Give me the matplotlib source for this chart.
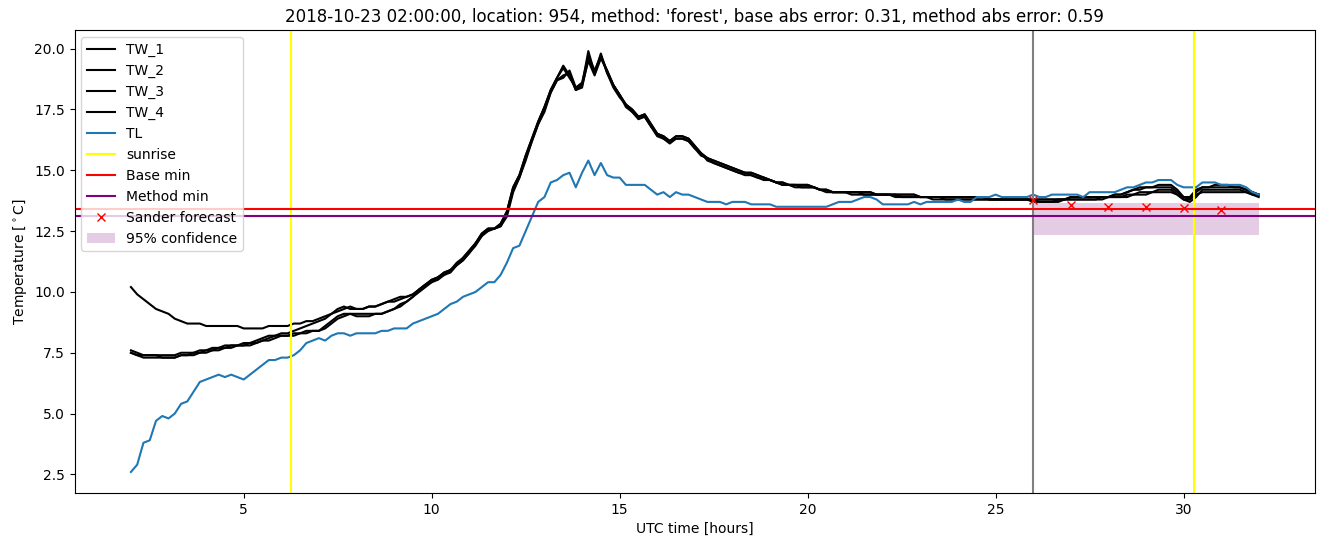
import numpy as np
import matplotlib

matplotlib.use("Agg")
import matplotlib.pyplot as plt  # noqa: E402

# 10-minute samples from 02:00 to 32:00 (hours since day start), one row per hour
TL = [
    2.6, 2.9, 3.8, 3.9, 4.7, 4.9,
    4.8, 5.0, 5.4, 5.5, 5.9, 6.3,
    6.4, 6.5, 6.6, 6.5, 6.6, 6.5,
    6.4, 6.6, 6.8, 7.0, 7.2, 7.2,
    7.3, 7.3, 7.4, 7.6, 7.9, 8.0,
    8.1, 8.0, 8.2, 8.3, 8.3, 8.2,
    8.3, 8.3, 8.3, 8.3, 8.4, 8.4,
    8.5, 8.5, 8.5, 8.7, 8.8, 8.9,
    9.0, 9.1, 9.3, 9.5, 9.6, 9.8,
    9.9, 10.0, 10.2, 10.4, 10.4, 10.7,
    11.2, 11.8, 11.9, 12.5, 13.1, 13.7,
    13.9, 14.5, 14.6, 14.8, 14.9, 14.3,
    14.9, 15.4, 14.8, 15.3, 14.8, 14.7,
    14.7, 14.4, 14.4, 14.4, 14.4, 14.2,
    14.0, 14.1, 13.9, 14.1, 14.0, 14.0,
    13.9, 13.8, 13.7, 13.7, 13.7, 13.6,
    13.7, 13.7, 13.7, 13.6, 13.6, 13.6,
    13.6, 13.5, 13.5, 13.5, 13.5, 13.5,
    13.5, 13.5, 13.5, 13.5, 13.6, 13.7,
    13.7, 13.7, 13.8, 13.9, 13.9, 13.8,
    13.6, 13.6, 13.6, 13.6, 13.6, 13.7,
    13.6, 13.7, 13.7, 13.7, 13.7, 13.7,
    13.8, 13.7, 13.7, 13.9, 13.9, 13.9,
    14.0, 13.9, 13.9, 13.9, 13.9, 13.9,
    14.0, 13.9, 13.9, 14.0, 14.0, 14.0,
    14.0, 14.0, 13.9, 14.1, 14.1, 14.1,
    14.1, 14.1, 14.2, 14.3, 14.3, 14.4,
    14.5, 14.5, 14.6, 14.6, 14.6, 14.4,
    14.3, 14.3, 14.3, 14.5, 14.5, 14.5,
    14.4, 14.4, 14.4, 14.4, 14.3, 14.1,
    14.0,
]

TW_1 = [
    10.2, 9.9, 9.7, 9.5, 9.3, 9.2,
    9.1, 8.9, 8.8, 8.7, 8.7, 8.7,
    8.6, 8.6, 8.6, 8.6, 8.6, 8.6,
    8.5, 8.5, 8.5, 8.5, 8.6, 8.6,
    8.6, 8.6, 8.7, 8.7, 8.8, 8.8,
    8.9, 9.0, 9.1, 9.3, 9.4, 9.3,
    9.3, 9.3, 9.4, 9.4, 9.5, 9.6,
    9.7, 9.8, 9.8, 9.9, 10.1, 10.3,
    10.5, 10.6, 10.8, 10.9, 11.2, 11.4,
    11.7, 12.0, 12.4, 12.6, 12.6, 12.8,
    13.3, 14.3, 14.8, 15.6, 16.3, 17.0,
    17.6, 18.3, 18.8, 19.2, 18.8, 18.4,
    18.6, 19.7, 19.1, 19.7, 19.1, 18.5,
    18.1, 17.7, 17.5, 17.2, 17.3, 16.9,
    16.5, 16.4, 16.2, 16.4, 16.4, 16.3,
    16.0, 15.7, 15.5, 15.4, 15.3, 15.2,
    15.1, 15.0, 14.9, 14.9, 14.8, 14.7,
    14.6, 14.5, 14.5, 14.4, 14.4, 14.4,
    14.4, 14.3, 14.2, 14.2, 14.1, 14.1,
    14.1, 14.1, 14.1, 14.1, 14.1, 14.0,
    14.0, 14.0, 14.0, 14.0, 14.0, 14.0,
    13.9, 13.9, 13.9, 13.9, 13.9, 13.9,
    13.9, 13.9, 13.9, 13.9, 13.9, 13.8,
    13.8, 13.8, 13.8, 13.8, 13.8, 13.8,
    13.8, 13.8, 13.8, 13.8, 13.8, 13.8,
    13.9, 13.9, 13.9, 13.9, 13.9, 13.9,
    13.9, 14.0, 14.0, 14.1, 14.2, 14.3,
    14.3, 14.3, 14.3, 14.3, 14.3, 14.1,
    13.9, 13.8, 14.1, 14.3, 14.3, 14.3,
    14.3, 14.3, 14.3, 14.3, 14.2, 14.1,
    14.0,
]

TW_2 = [
    7.5, 7.4, 7.4, 7.4, 7.4, 7.4,
    7.4, 7.4, 7.5, 7.5, 7.5, 7.6,
    7.6, 7.7, 7.7, 7.8, 7.8, 7.8,
    7.9, 7.9, 8.0, 8.1, 8.2, 8.2,
    8.3, 8.3, 8.4, 8.5, 8.6, 8.7,
    8.8, 8.9, 9.1, 9.2, 9.3, 9.4,
    9.3, 9.3, 9.4, 9.4, 9.5, 9.6,
    9.6, 9.7, 9.8, 9.9, 10.1, 10.3,
    10.5, 10.6, 10.8, 10.9, 11.1, 11.4,
    11.7, 12.0, 12.4, 12.6, 12.6, 12.8,
    13.3, 14.3, 14.8, 15.6, 16.3, 17.0,
    17.6, 18.3, 18.8, 19.3, 18.9, 18.3,
    18.5, 19.9, 19.0, 19.8, 19.0, 18.5,
    18.1, 17.7, 17.5, 17.2, 17.3, 16.9,
    16.5, 16.4, 16.2, 16.4, 16.4, 16.3,
    16.0, 15.7, 15.5, 15.4, 15.3, 15.2,
    15.1, 15.0, 14.9, 14.9, 14.8, 14.7,
    14.6, 14.5, 14.5, 14.4, 14.4, 14.4,
    14.4, 14.3, 14.2, 14.2, 14.1, 14.1,
    14.1, 14.1, 14.1, 14.1, 14.1, 14.0,
    14.0, 14.0, 14.0, 14.0, 14.0, 14.0,
    13.9, 13.9, 13.9, 13.9, 13.9, 13.9,
    13.9, 13.9, 13.9, 13.9, 13.9, 13.8,
    13.8, 13.8, 13.8, 13.8, 13.8, 13.8,
    13.8, 13.8, 13.8, 13.8, 13.8, 13.8,
    13.9, 13.9, 13.9, 13.9, 13.9, 13.9,
    13.9, 14.0, 14.0, 14.1, 14.2, 14.2,
    14.3, 14.3, 14.4, 14.4, 14.4, 14.2,
    13.9, 13.9, 14.2, 14.3, 14.3, 14.4,
    14.4, 14.4, 14.3, 14.3, 14.2, 14.1,
    14.0,
]

TW_3 = [
    7.5, 7.4, 7.3, 7.3, 7.3, 7.3,
    7.3, 7.3, 7.4, 7.4, 7.5, 7.5,
    7.6, 7.6, 7.7, 7.7, 7.8, 7.8,
    7.8, 7.9, 7.9, 8.0, 8.1, 8.2,
    8.2, 8.2, 8.3, 8.3, 8.4, 8.4,
    8.4, 8.6, 8.8, 9.0, 9.1, 9.1,
    9.1, 9.1, 9.1, 9.1, 9.1, 9.2,
    9.3, 9.5, 9.6, 9.8, 10.1, 10.3,
    10.4, 10.6, 10.7, 10.9, 11.1, 11.3,
    11.6, 12.0, 12.3, 12.6, 12.6, 12.7,
    13.2, 14.2, 14.7, 15.5, 16.2, 16.9,
    17.5, 18.2, 18.7, 18.9, 19.0, 18.3,
    18.4, 19.6, 19.0, 19.7, 19.0, 18.4,
    18.0, 17.7, 17.4, 17.1, 17.2, 16.8,
    16.5, 16.3, 16.2, 16.3, 16.3, 16.2,
    15.9, 15.6, 15.5, 15.3, 15.2, 15.1,
    15.0, 14.9, 14.8, 14.8, 14.7, 14.6,
    14.6, 14.5, 14.4, 14.4, 14.3, 14.3,
    14.3, 14.3, 14.2, 14.2, 14.1, 14.1,
    14.1, 14.1, 14.1, 14.0, 14.0, 14.0,
    14.0, 14.0, 14.0, 13.9, 13.9, 13.9,
    13.9, 13.9, 13.9, 13.9, 13.8, 13.8,
    13.8, 13.8, 13.8, 13.8, 13.8, 13.8,
    13.8, 13.8, 13.8, 13.8, 13.8, 13.8,
    13.8, 13.7, 13.7, 13.7, 13.7, 13.8,
    13.8, 13.8, 13.8, 13.8, 13.8, 13.9,
    13.9, 13.9, 13.9, 14.0, 14.0, 14.1,
    14.1, 14.1, 14.1, 14.1, 14.1, 14.0,
    13.8, 13.8, 14.0, 14.1, 14.1, 14.1,
    14.1, 14.1, 14.1, 14.1, 14.1, 14.0,
    14.0,
]

TW_4 = [
    7.6, 7.5, 7.4, 7.4, 7.4, 7.3,
    7.3, 7.3, 7.4, 7.4, 7.4, 7.5,
    7.5, 7.6, 7.6, 7.7, 7.7, 7.8,
    7.8, 7.8, 7.9, 8.0, 8.0, 8.1,
    8.2, 8.2, 8.2, 8.3, 8.3, 8.4,
    8.4, 8.5, 8.7, 8.9, 9.0, 9.1,
    9.0, 9.0, 9.0, 9.1, 9.1, 9.2,
    9.3, 9.4, 9.6, 9.8, 10.0, 10.2,
    10.4, 10.5, 10.7, 10.8, 11.1, 11.3,
    11.6, 11.9, 12.3, 12.5, 12.6, 12.7,
    13.1, 14.1, 14.7, 15.4, 16.2, 16.9,
    17.4, 18.2, 18.7, 18.8, 19.1, 18.4,
    18.5, 19.5, 18.9, 19.6, 19.1, 18.5,
    18.1, 17.6, 17.4, 17.2, 17.2, 16.8,
    16.4, 16.3, 16.1, 16.3, 16.3, 16.2,
    15.9, 15.7, 15.4, 15.3, 15.2, 15.1,
    15.0, 14.9, 14.9, 14.8, 14.7, 14.7,
    14.6, 14.5, 14.4, 14.4, 14.4, 14.3,
    14.3, 14.3, 14.2, 14.1, 14.1, 14.1,
    14.1, 14.0, 14.0, 14.0, 14.0, 14.0,
    14.0, 14.0, 13.9, 13.9, 13.9, 13.9,
    13.9, 13.9, 13.8, 13.8, 13.8, 13.8,
    13.8, 13.8, 13.8, 13.8, 13.8, 13.8,
    13.8, 13.8, 13.8, 13.8, 13.8, 13.8,
    13.7, 13.7, 13.7, 13.7, 13.8, 13.8,
    13.8, 13.8, 13.8, 13.8, 13.8, 13.8,
    13.9, 13.9, 13.9, 13.9, 14.0, 14.0,
    14.0, 14.1, 14.2, 14.2, 14.2, 14.0,
    13.8, 13.7, 13.9, 14.2, 14.2, 14.2,
    14.2, 14.2, 14.2, 14.2, 14.1, 14.0,
    13.9,
]

SUNRISE = [6.25, 30.27]
FORECAST_START = 26.0
BASE_MIN = 13.42
METHOD_MIN = 13.11
FC_HOURS = [26, 27, 28, 29, 30, 31]
FC_TEMP = [13.78, 13.59, 13.48, 13.50, 13.45, 13.35]
CONF_HOURS = [26, 32]
CONF_LOW = 12.33
CONF_HIGH = 13.64


def main() -> None:
    t = 2 + np.arange(len(TL)) / 6

    fig = plt.figure(figsize=(13.24, 5.47), dpi=100)
    ax = fig.add_axes([0.0563, 0.0987, 0.937, 0.8464])

    for name, vals in (("TW_1", TW_1), ("TW_2", TW_2), ("TW_3", TW_3), ("TW_4", TW_4)):
        ax.plot(2 + np.arange(len(vals)) / 6, vals, color="black", label=name)
    ax.plot(t, TL, color="tab:blue", label="TL")

    ax.axvline(SUNRISE[0], color="yellow", label="sunrise")
    ax.axvline(SUNRISE[1], color="yellow")
    ax.axvline(FORECAST_START, color="grey")
    ax.axhline(BASE_MIN, color="red", label="Base min")
    ax.axhline(METHOD_MIN, color="purple", label="Method min")
    ax.plot(FC_HOURS, FC_TEMP, "x", color="red", label="Sander forecast")
    ax.fill_between(CONF_HOURS, CONF_LOW, CONF_HIGH, color="purple", alpha=0.2,
                    lw=0, label="95% confidence")

    ax.set_xlabel("UTC time [hours]")
    ax.set_ylabel(r"Temperature [$^\circ$C]")
    ax.set_title("2018-10-23 02:00:00, location: 954, method: 'forest', "
                 "base abs error: 0.31, method abs error: 0.59")
    ax.legend(loc="upper left")

    fig.savefig("out.png", dpi=100)


if __name__ == "__main__":
    main()
